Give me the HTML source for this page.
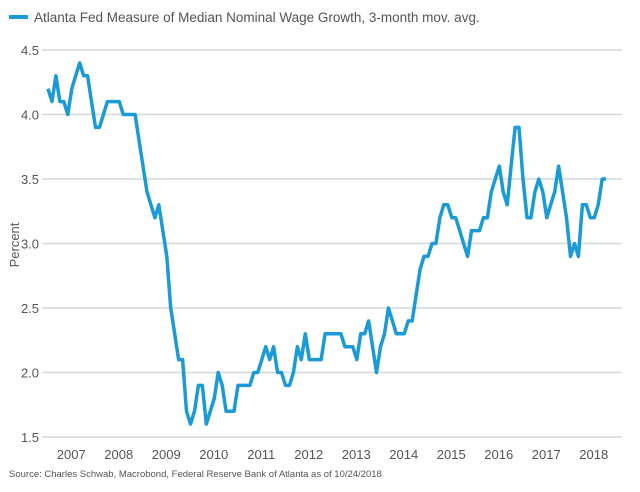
<!DOCTYPE html>
<html><head><meta charset="utf-8"><style>
html,body{margin:0;padding:0;background:#fff;}
svg{display:block;font-family:"Liberation Sans",sans-serif;}
</style></head><body>
<svg id="chart" width="640" height="492" viewBox="0 0 640 492">
<g>
<line x1="9" y1="17" x2="28" y2="17" stroke="#1a9ad6" stroke-width="4"/>
<text x="34" y="22" font-size="13.5" fill="#555">Atlanta Fed Measure of Median Nominal Wage Growth, 3-month mov. avg.</text>
</g>
<g id="grid"></g>
<g id="yticks"></g>
<g id="xticks"></g>
<text transform="translate(19,245) rotate(-90)" text-anchor="middle" font-size="13" fill="#555">Percent</text>
<text x="9" y="477" font-size="9.5" fill="#555">Source: Charles Schwab, Macrobond, Federal Reserve Bank of Atlanta as of 10/24/2018</text>
<path id="line" fill="none" stroke="#1a9ad6" stroke-width="3.5" stroke-linejoin="round"/>
</svg>
<script>
const values=[4.2,4.1,4.3,4.1,4.1,4.0,4.2,4.3,4.4,4.3,4.3,4.1,3.9,3.9,4.0,4.1,4.1,4.1,4.1,4.0,4.0,4.0,4.0,3.8,3.6,3.4,3.3,3.2,3.3,3.1,2.9,2.5,2.3,2.1,2.1,1.7,1.6,1.7,1.9,1.9,1.6,1.7,1.8,2.0,1.9,1.7,1.7,1.7,1.9,1.9,1.9,1.9,2.0,2.0,2.1,2.2,2.1,2.2,2.0,2.0,1.9,1.9,2.0,2.2,2.1,2.3,2.1,2.1,2.1,2.1,2.3,2.3,2.3,2.3,2.3,2.2,2.2,2.2,2.1,2.3,2.3,2.4,2.2,2.0,2.2,2.3,2.5,2.4,2.3,2.3,2.3,2.4,2.4,2.6,2.8,2.9,2.9,3.0,3.0,3.2,3.3,3.3,3.2,3.2,3.1,3.0,2.9,3.1,3.1,3.1,3.2,3.2,3.4,3.5,3.6,3.4,3.3,3.6,3.9,3.9,3.5,3.2,3.2,3.4,3.5,3.4,3.2,3.3,3.4,3.6,3.4,3.2,2.9,3.0,2.9,3.3,3.3,3.2,3.2,3.3,3.5,3.5];
const startYear=2007;
const yTicks=[1.5,2.0,2.5,3.0,3.5,4.0,4.5];
const yearLabels=["2007","2008","2009","2010","2011","2012","2013","2014","2015","2016","2017","2018"];
const NS="http://www.w3.org/2000/svg";
const yScale=v=>50+(4.5-v)*129;
const x0=47.5, pxPerYear=47.5;
const xScale=m=>x0+m*pxPerYear/12+0.5;
const grid=document.getElementById('grid'),yt=document.getElementById('yticks'),xt=document.getElementById('xticks');
yTicks.forEach(v=>{
 const l=document.createElementNS(NS,'line');
 
 
 l.setAttribute('x1',42);l.setAttribute('x2',622);
 l.setAttribute('y1',yScale(v));l.setAttribute('y2',yScale(v));
 l.setAttribute('stroke','#d3d8de');l.setAttribute('stroke-width','1.5');
 grid.appendChild(l);
 const t=document.createElementNS(NS,'text');
 
 
 t.setAttribute('x',30);t.setAttribute('y',yScale(v)+5);
 t.setAttribute('text-anchor','middle');t.setAttribute('font-size','13');t.setAttribute('fill','#555');
 t.textContent=v.toFixed(1);yt.appendChild(t);
});
yearLabels.forEach((y,i)=>{
 const t=document.createElementNS(NS,'text');
 
 
 t.setAttribute('x',x0+(i+0.5)*pxPerYear);t.setAttribute('y',459);
 t.setAttribute('text-anchor','middle');t.setAttribute('font-size','13');t.setAttribute('fill','#555');
 t.textContent=y;xt.appendChild(t);
});
document.getElementById('line').setAttribute('d',values.map((v,i)=>(i?'L':'M')+xScale(i).toFixed(1)+','+yScale(v).toFixed(1)).join(''));
</script>
</body></html>
